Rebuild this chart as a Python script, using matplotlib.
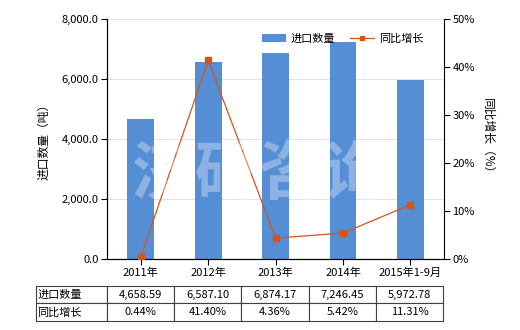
import matplotlib
matplotlib.use("Agg")
from matplotlib import pyplot as plt
import numpy as np

plt.rcParams['font.family'] = ['Noto Sans CJK SC', 'DejaVu Sans']

categories = ['2011年', '2012年', '2013年', '2014年', '2015年1-9月']
import_qty = [4658.59, 6587.10, 6874.17, 7246.45, 5972.78]
yoy_growth = [0.44, 41.40, 4.36, 5.42, 11.31]
qty_labels = ['4,658.59', '6,587.10', '6,874.17', '7,246.45', '5,972.78']
yoy_labels = ['0.44%', '41.40%', '4.36%', '5.42%', '11.31%']

bar_color = '#558ed5'
line_color = '#d4541a'

fig = plt.figure(figsize=(5.2, 3.3), dpi=100)
ax = fig.add_axes([0.206, 0.215, 0.648, 0.727])
x = np.arange(len(categories))

ax.bar(x, import_qty, width=0.4, color=bar_color, zorder=2, label='进口数量')
ax.set_ylim(0, 8000)
ax.set_xlim(-0.5, 4.5)
ax.set_yticks(np.arange(0, 8001, 2000))
ax.set_yticklabels(['{:,.1f}'.format(v) for v in np.arange(0, 8001, 2000)], fontsize=8)
ax.yaxis.grid(True, color='#e3e3e3', linewidth=0.8, zorder=0)
ax.set_xticks(x)
ax.set_xticklabels(categories, fontsize=8)
ax.set_ylabel('进口数量（吨）', fontsize=8.5, labelpad=8)
ax.spines['top'].set_visible(False)
ax.spines['right'].set_visible(False)
ax.tick_params(axis='both', length=4, width=0.8, pad=2)

# watermark
fig.text(0.5, 0.47, '济研咨询', fontsize=46, color='white', alpha=0.32,
         ha='center', va='center', fontweight='bold', zorder=5)

ax2 = ax.twinx()
ax2.plot(x, yoy_growth, color=line_color, linewidth=0.9, marker='s', markersize=4.5,
         label='同比增长', zorder=3)
ax2.set_ylim(0, 50)
ax2.set_yticks(np.arange(0, 51, 10))
ax2.set_yticklabels(['{}%'.format(v) for v in range(0, 51, 10)], fontsize=8)
ax2.set_ylabel('同比增长（%）', fontsize=8.5, rotation=270, labelpad=14)
ax2.spines['top'].set_visible(False)
ax2.tick_params(axis='y', length=4, width=0.8, pad=2)

h1, l1 = ax.get_legend_handles_labels()
h2, l2 = ax2.get_legend_handles_labels()
leg = ax.legend(h1 + h2, l1 + l2, loc='center left', bbox_to_anchor=(0.43, 0.92), ncol=2,
                frameon=False, fontsize=8, handlelength=2.2, columnspacing=1.3,
                handletextpad=0.4, markerscale=0.6)

# data table under the chart
cell_text = [['进口数量'] + qty_labels, ['同比增长'] + yoy_labels]
tbl = ax.table(cellText=cell_text, cellLoc='center',
               colWidths=[71 / 337] + [67.2 / 337] * 5,
               bbox=[-0.211, -0.258, 1.208, 0.146])
tbl.auto_set_font_size(False)
tbl.set_fontsize(8)
for (r, c), cell in tbl.get_celld().items():
    cell.set_edgecolor('#404040')
    cell.set_linewidth(0.8)
    if c == 0:
        cell.get_text().set_ha('left')
        cell.PAD = 0.02

fig.savefig('out.png', dpi=100)
